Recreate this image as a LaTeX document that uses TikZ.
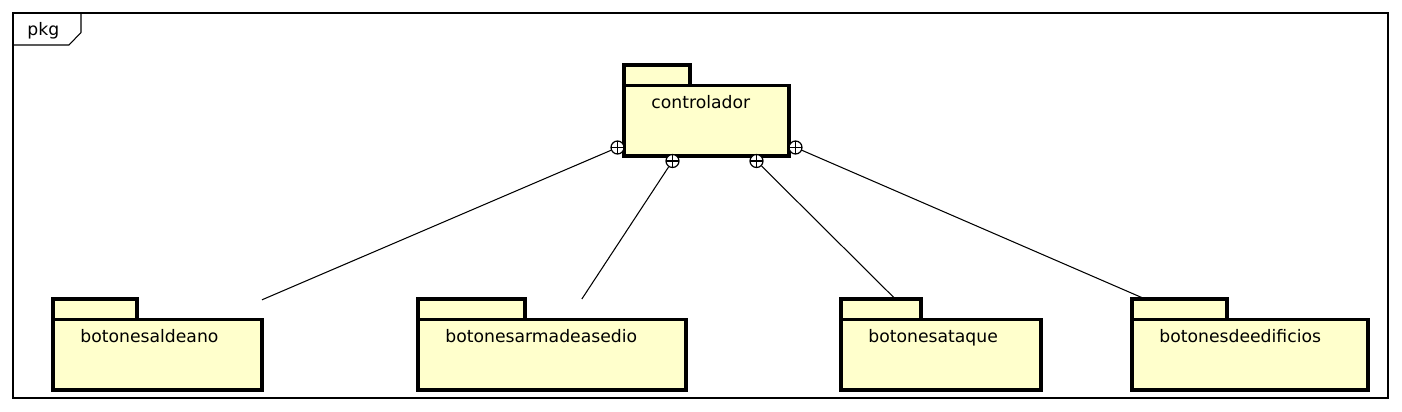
\documentclass[tikz,border=0pt]{standalone}
\usepackage{fontspec}
\setmainfont{DejaVu Sans}
\definecolor{pkgfill}{HTML}{FFFFCC}
\tikzset{
  pkgtab/.style={draw, line width=1.9pt, fill=pkgfill, rectangle, inner sep=0pt, outer sep=0pt, minimum height=20.5*0.02cm},
  pkgbody/.style={draw, line width=1.9pt, fill=pkgfill, rectangle, inner sep=0pt, outer sep=0pt, minimum height=70.5*0.02cm},
  pkgbox/.style={rectangle, inner sep=0pt, outer sep=0pt, minimum height=91*0.02cm},
  pkglabel/.style={inner sep=0pt, font=\fontsize{9.8}{12}\selectfont},
  ball/.style={circle, draw, line width=0.7pt, fill=white, inner sep=0pt, minimum size=13*0.02cm,
    path picture={\draw[line width=0.7pt] (path picture bounding box.north) -- (path picture bounding box.south)
      (path picture bounding box.west) -- (path picture bounding box.east);}},
  conn/.style={line width=0.6pt}
}
\newcommand\umlpackage[6]{%
  \node[pkgtab, minimum width=#5*0.02cm, anchor=north west] (#1-tab) at (#2,#3) {};
  \node[pkgbody, minimum width=#4*0.02cm, anchor=north west] (#1-body) at (#2,#3+20.5) {};
  \node[pkglabel, anchor=base west] (#1-label) at (#2+27,#3+43.5) {#6};
  \node[pkgbox, minimum width=#4*0.02cm, anchor=north west] (#1) at (#2,#3) {};
}
\begin{document}
\begin{tikzpicture}[x=0.02cm,y=-0.02cm]
\useasboundingbox (0,0) rectangle (1402,412);
% frame
\node[draw, line width=0.6pt, rectangle, inner sep=0pt, outer sep=0pt, minimum width=1375*0.02cm, minimum height=385*0.02cm, anchor=north west] (frame) at (13,13) {};
\node[pkglabel, anchor=base west] (framelabel) at (27,36) {pkg};
\draw[line width=0.6pt] (frame.north west) ++(68,0) -- ++(0,19.5) -- ++(-12,12.5) -- ++(-56,0);
% packages
\umlpackage{ctrl}{624}{65}{165}{66}{controlador}
\umlpackage{ald}{53}{299}{209}{84}{botonesaldeano}
\umlpackage{arm}{418}{299}{268}{107}{botonesarmadeasedio}
\umlpackage{ata}{841}{299}{200}{80}{botonesataque}
\umlpackage{edi}{1132}{299}{236}{95}{botonesdeedificios}
% containment circles
\node[ball] (b1) at (617.5,147.5) {};
\node[ball] (b2) at (672.5,161) {};
\node[ball] (b3) at (756.5,161) {};
\node[ball] (b4) at (795.5,147.5) {};
% connectors
\draw[conn] (b1) -- (ald);
\draw[conn] (b2) -- (arm);
\draw[conn] (b3) -- (ata);
\draw[conn] (b4) -- (edi);
\end{tikzpicture}
\end{document}
